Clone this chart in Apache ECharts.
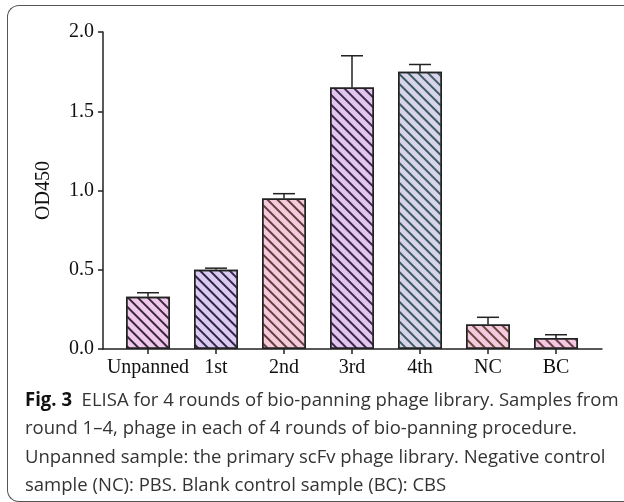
<!DOCTYPE html>
<html>
<head>
<meta charset="utf-8">
<script src="https://cdn.jsdelivr.net/npm/echarts@6/dist/echarts.min.js"></script>
<style>
  html, body { margin: 0; padding: 0; background: #fff; }
  #frame {
    position: absolute; left: 7px; top: 5px; width: 640px; height: 497px;
    border: 1.5px solid #555; border-right: none; border-radius: 12px 0 0 12px;
    box-sizing: border-box;
  }
  #chart { position: absolute; left: 0; top: 0; width: 624px; height: 502px; }
  #caption {
    position: absolute; left: 25px; top: 385px;
    font-family: "Open Sans", sans-serif; font-size: 19px; line-height: 28.3px;
    color: #333; white-space: pre; transform: scaleX(0.975); transform-origin: left top;
  }
  #caption b { color: #111; }
</style>
</head>
<body>
<div id="frame"></div>
<div id="chart"></div>
<div id="caption"><b>Fig. 3</b>  ELISA for 4 rounds of bio-panning phage library. Samples from
round 1–4, phage in each of 4 rounds of bio-panning procedure.
Unpanned sample: the primary scFv phage library. Negative control
sample (NC): PBS. Blank control sample (BC): CBS</div>
<script>
var categories = ['Unpanned', '1st', '2nd', '3rd', '4th', 'NC', 'BC']
var meanValues = [0.33, 0.50, 0.95, 1.65, 1.75, 0.155, 0.07]
var errorValues = [0.025, 0.01, 0.03, 0.20, 0.045, 0.045, 0.02]
var yMin = 0
var yMax = 2
var yInterval = 0.5

// fill / stripe colours for each bar
var fillColors = ['#f0c8ec', '#dccaf2', '#f6cadb', '#e3c6f0', '#d8d4ec', '#f6cade', '#f4c8e2']
var stripeColors = ['#3c2a3c', '#2f2842', '#5e3e3e', '#3a2a4a', '#3e5c5e', '#6a4640', '#6a4248']

var serif = '"Liberation Serif", "Times New Roman", serif'
var chart = echarts.init(document.getElementById('chart'))

var barData = meanValues.map(function (v, i) {
  return {
    value: v,
    itemStyle: {
      color: fillColors[i],
      borderColor: '#222',
      borderWidth: 1.5,
      decal: {
        symbol: 'rect',
        symbolSize: 1,
        dashArrayX: [1, 0],
        dashArrayY: [1.6, 4.2],
        rotation: Math.PI / 4,
        color: stripeColors[i]
      }
    }
  }
})

var errData = meanValues.map(function (v, i) {
  return [i, v, v + errorValues[i]]
})

var option = {
  animation: false,
  grid: [
    { left: 103, right: 22, top: 32, bottom: 153 },
    { left: 114, right: 34, top: 32, bottom: 153 }
  ],
  xAxis: [
    {
      gridIndex: 0,
      type: 'value',
      min: 0,
      max: 1,
      axisLine: { show: true, lineStyle: { color: '#222', width: 1.5 } },
      axisTick: { show: false },
      axisLabel: { show: false },
      splitLine: { show: false }
    },
    {
      gridIndex: 1,
      type: 'category',
      data: categories,
      axisLine: { show: false },
      axisTick: { show: true, alignWithLabel: true, length: 5, lineStyle: { color: '#222', width: 1.5 } },
      axisLabel: { fontFamily: serif, fontSize: 20, color: '#111', margin: 9, interval: 0 },
      splitLine: { show: false }
    }
  ],
  yAxis: [
    {
      gridIndex: 0,
      type: 'value',
      min: yMin,
      max: yMax,
      interval: yInterval,
      name: 'OD450',
      nameLocation: 'middle',
      nameGap: 49,
      nameTextStyle: { fontFamily: serif, fontSize: 20, color: '#111' },
      axisLine: { show: true, lineStyle: { color: '#222', width: 1.5 } },
      axisTick: { show: true, length: 5, lineStyle: { color: '#222', width: 1.5 } },
      axisLabel: {
        fontFamily: serif, fontSize: 20, color: '#111', margin: 9,
        formatter: function (v) { return v.toFixed(1) }
      },
      splitLine: { show: false }
    },
    {
      gridIndex: 1,
      type: 'value',
      min: yMin,
      max: yMax,
      show: false,
      splitLine: { show: false }
    }
  ],
  series: [
    {
      type: 'bar',
      xAxisIndex: 1,
      yAxisIndex: 1,
      barWidth: 44,
      data: barData
    },
    {
      type: 'custom',
      xAxisIndex: 1,
      yAxisIndex: 1,
      z: 5,
      data: errData,
      renderItem: function (params, api) {
        var base = api.coord([api.value(0), api.value(1)])
        var top = api.coord([api.value(0), api.value(2)])
        var half = 11
        var style = { stroke: '#222', lineWidth: 1.5 }
        return {
          type: 'group',
          children: [
            { type: 'line', shape: { x1: base[0], y1: base[1], x2: top[0], y2: top[1] }, style: style },
            { type: 'line', shape: { x1: top[0] - half, y1: top[1], x2: top[0] + half, y2: top[1] }, style: style }
          ]
        }
      }
    }
  ]
}
chart.setOption(option)
</script>
</body>
</html>
